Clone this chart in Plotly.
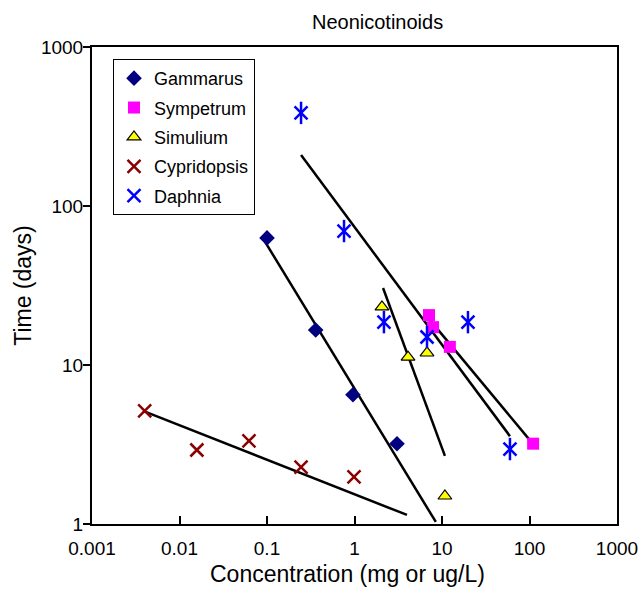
import plotly.graph_objects as go

# ---- data ----
gam_x = [0.1, 0.36, 0.96, 3.06]
gam_y = [63, 16.6, 6.5, 3.2]
gam_fit_x = [0.0925, 8.5]
gam_fit_y = [61, 1.03]

sym_x = [7.1, 7.9, 12.3, 110]
sym_y = [20.6, 17.3, 13.0, 3.2]
sym_fit_x = [7.1, 110]
sym_fit_y = [19.5, 3.18]

sim_x = [2.06, 4.09, 6.74, 10.8]
sim_y = [23.2, 11.2, 11.9, 1.5]
sim_fit_x = [2.12, 10.8]
sim_fit_y = [30.5, 2.68]

cyp_x = [0.004, 0.0158, 0.0622, 0.245, 0.987]
cyp_y = [5.14, 2.92, 3.33, 2.28, 1.98]
cyp_fit_x = [0.00383, 3.98]
cyp_fit_y = [5.14, 1.14]

dap_x = [0.245, 0.759, 2.17, 6.74, 19.8, 59.8]
dap_y = [385, 69.6, 18.6, 15.0, 18.6, 2.96]
dap_fit_x = [0.245, 59.8]
dap_fit_y = [209, 3.57]

x_tickvals = [0.001, 0.01, 0.1, 1, 10, 100, 1000]
x_ticktext = ["0.001", "0.01", "0.1", "1", "10", "100", "1000"]
y_tickvals = [1, 10, 100, 1000]
y_ticktext = ["1", "10", "100", "1000"]

FONT = "Liberation Sans, Arial, Helvetica, sans-serif"

fig = go.Figure()

# fit lines (no legend)
for fx, fy in [(gam_fit_x, gam_fit_y), (sym_fit_x, sym_fit_y), (sim_fit_x, sim_fit_y),
               (cyp_fit_x, cyp_fit_y), (dap_fit_x, dap_fit_y)]:
    fig.add_trace(go.Scatter(x=fx, y=fy, mode="lines", line=dict(color="black", width=2.5),
                             showlegend=False, hoverinfo="skip"))

fig.add_trace(go.Scatter(x=gam_x, y=gam_y, mode="markers", name="Gammarus", legendgroup="g1",
                         marker=dict(symbol="diamond", size=12, color="#000080")))
fig.add_trace(go.Scatter(x=sym_x, y=sym_y, mode="markers", name="Sympetrum", legendgroup="g2",
                         marker=dict(symbol="square", size=12, color="#FF00FF")))
fig.add_trace(go.Scatter(x=sim_x, y=sim_y, mode="markers", name="Simulium", legendgroup="g3",
                         marker=dict(symbol="triangle-up", size=12, color="#FFFF00",
                                     line=dict(color="black", width=1.2))))
fig.add_trace(go.Scatter(x=cyp_x, y=cyp_y, mode="markers", name="Cypridopsis", legendgroup="g4",
                         marker=dict(symbol="x-thin-open", size=13, color="#8B0000",
                                     line=dict(color="#8B0000", width=2.5))))
fig.add_trace(go.Scatter(x=dap_x, y=dap_y, mode="markers", name="Daphnia", legendgroup="g5",
                         marker=dict(symbol="x-thin-open", size=13, color="#0000FF",
                                     line=dict(color="#0000FF", width=2.5))))
fig.add_trace(go.Scatter(x=dap_x, y=dap_y, mode="markers", showlegend=False, legendgroup="g5",
                         marker=dict(symbol="line-ns-open", size=16, color="#0000FF",
                                     line=dict(color="#0000FF", width=2.5))))

fig.update_layout(
    width=640, height=590,
    margin=dict(l=92, r=23, t=47, b=66, autoexpand=False),
    paper_bgcolor="white", plot_bgcolor="white",
    font=dict(family=FONT, color="black", size=19),
    title=dict(text="Neonicotinoids", x=0.59, xanchor="center", y=0.962, yanchor="middle",
               font=dict(size=20, family=FONT)),
    legend=dict(x=0.04, y=0.975, xanchor="left", yanchor="top",
                bordercolor="black", borderwidth=1, bgcolor="white",
                font=dict(size=18, family=FONT), traceorder="grouped", tracegroupgap=3,
                itemwidth=30),
    showlegend=True,
    annotations=[dict(text="Concentration (mg or ug/L)", xref="paper", yref="paper",
                      x=(347 - 92) / 525, y=(524 - 574) / 477, xanchor="center", yanchor="middle",
                      showarrow=False, font=dict(size=23, family=FONT))],
)

fig.update_xaxes(type="log", range=[-3, 3], tickvals=x_tickvals, ticktext=x_ticktext,
                 ticks="inside", ticklen=8, tickwidth=1.5, tickcolor="black",
                 showline=True, linecolor="black", linewidth=2, mirror=True,
                 showgrid=False, zeroline=False, ticklabelstandoff=6, automargin=False,
                 tickfont=dict(size=19))
fig.update_yaxes(type="log", range=[0, 3], tickvals=y_tickvals, ticktext=y_ticktext,
                 ticks="outside", ticklen=7, tickwidth=1.5, tickcolor="black",
                 showline=True, linecolor="black", linewidth=2, mirror=True,
                 showgrid=False, zeroline=False, automargin=False, ticklabelstandoff=-4,
                 tickfont=dict(size=19),
                 title=dict(text="Time (days)", font=dict(size=23), standoff=3))

fig.write_html("out.html")
